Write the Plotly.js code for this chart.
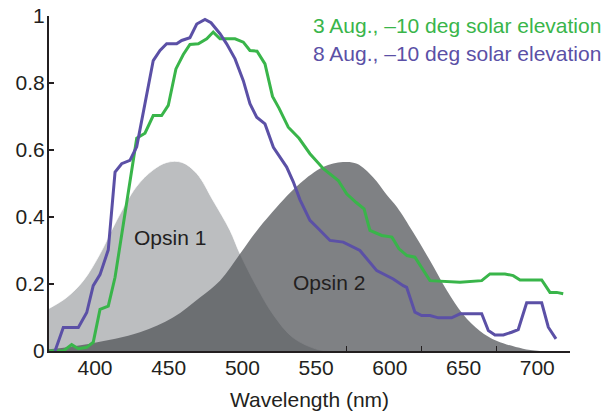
<!DOCTYPE html>
<html>
<head>
<meta charset="utf-8">
<script src="https://cdn.plot.ly/plotly-3.0.1.min.js"></script>
<style>html,body{margin:0;padding:0;background:#fff}#chart{width:607px;height:415px}</style>
</head>
<body>
<div id="chart"></div>
<script>
// Opsin sensitivity curves (wavelength nm, relative value)
const opsin1X = [368.8, 380.8, 392.1, 403.4, 414.7, 428, 439.3, 448.8, 459, 469.2, 480, 491.6, 498.4, 509.9, 520.7, 534.3, 550.6, 559.4];
const opsin1Y = [0.127, 0.16, 0.21, 0.29, 0.39, 0.49, 0.54, 0.563, 0.563, 0.529, 0.45, 0.36, 0.29, 0.19, 0.11, 0.04, 0.005, 0];
const opsin2X = [368.8, 396.6, 430.5, 452.9, 471.2, 484.8, 498.4, 509.9, 527.5, 539, 554.7, 568.2, 577.7, 588.6, 598.1, 604.8, 615.7, 627.2, 638.8, 649.6, 661.1, 672.7, 690.3, 701.8];
const opsin2Y = [0.005, 0.022, 0.056, 0.10, 0.16, 0.21, 0.29, 0.36, 0.45, 0.50, 0.549, 0.564, 0.559, 0.519, 0.465, 0.43, 0.355, 0.27, 0.18, 0.11, 0.06, 0.03, 0.007, 0];

// 3 Aug., -10 deg solar elevation (green)
const aug3X = [369, 378.5, 384.2, 388.7, 394.4, 398.8, 403.4, 409, 413.6, 418.1, 422.6, 428.3, 433.9, 439.5, 445.2, 449.7, 454.9, 459.9, 464.4, 470.1, 475.8, 480.2, 484.8, 495, 500.6, 505.1, 509.9, 515.3, 520.4, 524.8, 531.1, 538.4, 545.8, 554.9, 565, 570.7, 577, 582.5, 586.5, 594.5, 601.4, 606.2, 611.6, 617, 627.2, 647.6, 662.3, 667.9, 678.1, 683.7, 688.3, 703, 708.6, 713.2, 717.6];
const aug3Y = [0.0, 0.0, 0.019, 0.007, 0.011, 0.026, 0.124, 0.134, 0.22, 0.35, 0.48, 0.635, 0.65, 0.703, 0.703, 0.733, 0.842, 0.885, 0.915, 0.917, 0.932, 0.952, 0.932, 0.932, 0.922, 0.897, 0.895, 0.857, 0.76, 0.725, 0.668, 0.635, 0.589, 0.544, 0.509, 0.469, 0.444, 0.424, 0.36, 0.345, 0.34, 0.305, 0.285, 0.28, 0.21, 0.205, 0.21, 0.23, 0.23, 0.225, 0.212, 0.212, 0.175, 0.175, 0.171];

// 8 Aug., -10 deg solar elevation (purple)
const aug8X = [372.9, 378.5, 388.7, 394.4, 398.8, 403.4, 409, 413.6, 418.1, 423.7, 428.3, 432.8, 435.1, 439.5, 444.1, 448.6, 455.4, 458.8, 464.4, 469, 474.6, 478.7, 484.8, 489.3, 495, 500.6, 505.1, 509.7, 515.3, 521, 530, 534.5, 539, 545.8, 550.4, 559.4, 568.4, 579.7, 591.1, 602.3, 609.1, 611.4, 617, 621.6, 627.2, 632.9, 641.9, 647.6, 662.3, 666.8, 671.3, 677, 682.6, 687.1, 692.8, 703, 707.5, 712.7];
const aug8Y = [0.0, 0.07, 0.07, 0.115, 0.195, 0.228, 0.302, 0.534, 0.559, 0.569, 0.61, 0.718, 0.768, 0.867, 0.897, 0.917, 0.917, 0.927, 0.935, 0.976, 0.99, 0.98, 0.947, 0.917, 0.872, 0.807, 0.738, 0.698, 0.678, 0.608, 0.549, 0.505, 0.452, 0.39, 0.37, 0.33, 0.325, 0.30, 0.24, 0.215, 0.195, 0.19, 0.116, 0.106, 0.106, 0.099, 0.099, 0.111, 0.111, 0.061, 0.048, 0.048, 0.056, 0.064, 0.144, 0.144, 0.071, 0.036];

const yTicks = [0, 0.2, 0.4, 0.6, 0.8, 1];
const xTicks = [400, 450, 500, 550, 600, 650, 700];
const xMarkTicks = [570.7, 621.6, 672.5, 722.1];
const seriesNames = ['3 Aug., \u201310 deg solar elevation', '8 Aug., \u201310 deg solar elevation'];
const opsinNames = ['Opsin 1', 'Opsin 2'];

const GREEN = '#39b54a', PURPLE = '#5b50a6', TXT = '#231f20';
const FONT = 'Liberation Sans, Arial, Helvetica, sans-serif';
const XR = [368.8, 722.2];

const traces = [
  {x: opsin1X, y: opsin1Y, type: 'scatter', mode: 'lines', fill: 'tozeroy',
   fillcolor: '#bcbec0', line: {color: 'rgba(255,255,255,0.9)', width: 0.8, shape: 'spline', smoothing: 1}, hoverinfo: 'skip'},
  {x: opsin2X, y: opsin2Y, type: 'scatter', mode: 'lines', fill: 'tozeroy',
   fillcolor: 'rgba(77,79,83,0.716)', line: {color: 'rgba(0,0,0,0)', width: 0, shape: 'spline', smoothing: 1}, hoverinfo: 'skip'},
  {x: aug3X, y: aug3Y, type: 'scatter', mode: 'lines', name: seriesNames[0],
   line: {color: GREEN, width: 3}},
  {x: aug8X, y: aug8Y, type: 'scatter', mode: 'lines', name: seriesNames[1],
   line: {color: PURPLE, width: 3}},
  {x: [], y: [], xaxis: 'x2', type: 'scatter', mode: 'lines', hoverinfo: 'skip'}
];

const layout = {
  width: 607, height: 415,
  margin: {l: 49, r: 37, t: 16, b: 64},
  paper_bgcolor: '#fff', plot_bgcolor: '#fff',
  showlegend: false,
  font: {family: FONT, size: 21, color: TXT},
  xaxis: {
    range: XR, tickvals: xTicks, ticktext: xTicks.map(String), ticks: '',
    ticklabelstandoff: -3,
    showgrid: false, zeroline: false, showline: true, linecolor: '#231f20', linewidth: 1.5,
    tickfont: {family: FONT, size: 21, color: TXT},
    title: {text: 'Wavelength (nm)', font: {family: FONT, size: 21, color: TXT}, standoff: 14}
  },
  xaxis2: {
    range: XR, overlaying: 'x', anchor: 'y', side: 'bottom', tickvals: xMarkTicks,
    showticklabels: false, ticks: 'inside', ticklen: 5, tickwidth: 1.2, tickcolor: '#231f20',
    showgrid: false, zeroline: false, showline: false
  },
  yaxis: {
    range: [0, 1], tickvals: yTicks, ticktext: yTicks.map(String), ticks: 'inside', ticklen: 5,
    tickwidth: 1.5, tickcolor: '#231f20', ticklabelstandoff: -2,
    showgrid: false, zeroline: false, showline: true, linecolor: '#231f20', linewidth: 2,
    tickfont: {family: FONT, size: 21, color: TXT}
  },
  annotations: [
    {xref: 'paper', yref: 'paper', x: 1.063, y: 0.972, xanchor: 'right', yanchor: 'middle',
     text: seriesNames[0], showarrow: false, font: {family: FONT, size: 21, color: GREEN}},
    {xref: 'paper', yref: 'paper', x: 1.063, y: 0.888, xanchor: 'right', yanchor: 'middle',
     text: seriesNames[1], showarrow: false, font: {family: FONT, size: 21, color: PURPLE}},
    {xref: 'x', yref: 'y', x: 450.9, y: 0.338, xanchor: 'center', yanchor: 'middle',
     text: opsinNames[0], showarrow: false, font: {family: FONT, size: 21, color: TXT}},
    {xref: 'x', yref: 'y', x: 558.7, y: 0.205, xanchor: 'center', yanchor: 'middle',
     text: opsinNames[1], showarrow: false, font: {family: FONT, size: 21, color: TXT}}
  ]
};

Plotly.newPlot('chart', traces, layout, {displayModeBar: false, staticPlot: true});
</script>
</body>
</html>
